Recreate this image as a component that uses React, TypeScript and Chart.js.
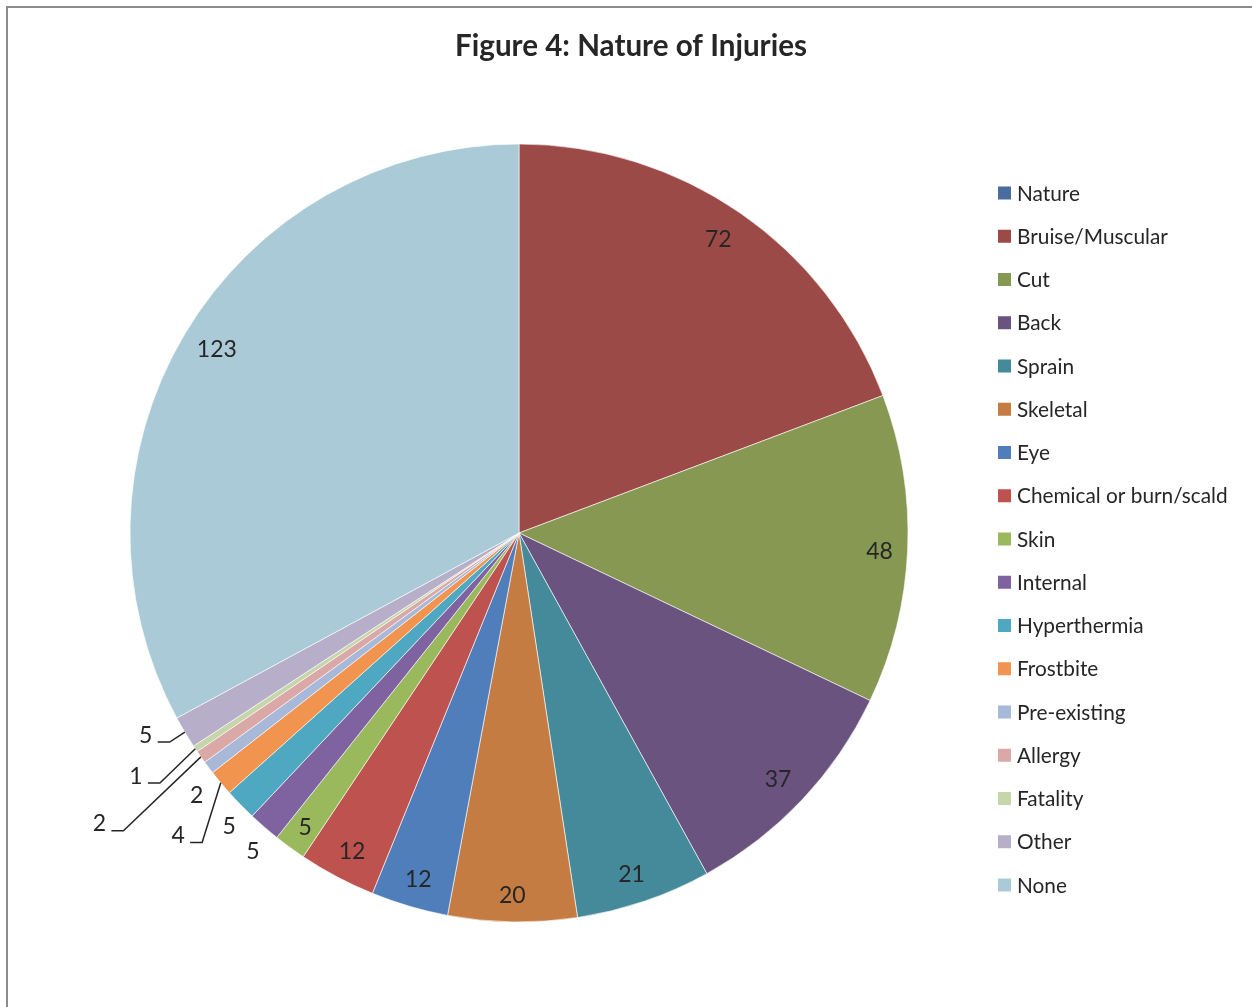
import React, { useEffect, useRef } from 'react';
import { Chart, registerables } from 'chart.js';

Chart.register(...registerables);

const chartTitle = 'Figure 4: Nature of Injuries';

const categories = [
  'Nature', 'Bruise/Muscular', 'Cut', 'Back', 'Sprain', 'Skeletal', 'Eye',
  'Chemical or burn/scald', 'Skin', 'Internal', 'Hyperthermia', 'Frostbite',
  'Pre-existing', 'Allergy', 'Fatality', 'Other', 'None',
];

const values = [0, 72, 48, 37, 21, 20, 12, 12, 5, 5, 5, 4, 2, 2, 1, 5, 123];

const colors = [
  '#4A6C9E', '#9C4A47', '#879853', '#6B537F', '#458A9B', '#C57C43', '#4F7EBB',
  '#BE524F', '#9AB95D', '#7F63A0', '#4FA8C1', '#F0944F', '#A8B8D8', '#D9A8A7',
  '#C6D5AA', '#B7AECA', '#A9CAD6',
];

// data label placement: radius as a share of pie radius, angle shift (deg), leader line
const labelRadius = [0, 0.915, 0.928, 0.918, 0.923, 0.93, 0.925, 0.923, 0.933, 1.064, 1.059, 1.17, 1.067, 1.311, 1.165, 1.09, 0.91];
const labelShift = [0, -0.6, 0.3, 0.2, 0.5, 0.1, -0.1, -0.2, 0, -0.9, -1.0, -1.55, -2.0, 0.5, 1.4, 2.5, 0.6];
const labelLeader = [false, false, false, false, false, false, false, false, false, false, false, true, false, true, true, true, false];

const FONT = 'Lato, "Open Sans", sans-serif';
const TEXT = '#262626';

const decorPlugin = {
  id: 'decor',
  afterDatasetsDraw(chart: any) {
    const ctx = chart.ctx as CanvasRenderingContext2D;
    const meta = chart.getDatasetMeta(0);
    ctx.save();
    // frame
    ctx.strokeStyle = '#8C8C8C';
    ctx.lineWidth = 2;
    ctx.beginPath();
    ctx.moveTo(7, 1010);
    ctx.lineTo(7, 7);
    ctx.lineTo(1260, 7);
    ctx.stroke();

    // title
    ctx.fillStyle = TEXT;
    ctx.font = `bold 29.6px ${FONT}`;
    ctx.textAlign = 'center';
    ctx.textBaseline = 'alphabetic';
    ctx.fillText(chartTitle, 631, 56);

    // data labels
    ctx.font = `23px ${FONT}`;
    meta.data.forEach((arc: any, i: number) => {
      const v = values[i];
      if (!v) return;
      const p = arc.getProps(['x', 'y', 'startAngle', 'endAngle', 'outerRadius'], true);
      const mid = (p.startAngle + p.endAngle) / 2;
      const a = mid + (labelShift[i] * Math.PI) / 180;
      const r = p.outerRadius * labelRadius[i];
      const cx = p.x + Math.cos(a) * r;
      const cy = p.y + Math.sin(a) * r;
      ctx.fillStyle = TEXT;
      ctx.textAlign = 'center';
      ctx.fillText(String(v), cx, cy + 8.5);
      if (labelLeader[i]) {
        const ex = p.x + Math.cos(mid) * p.outerRadius;
        const ey = p.y + Math.sin(mid) * p.outerRadius;
        ctx.strokeStyle = TEXT;
        ctx.lineWidth = 1.5;
        ctx.beginPath();
        ctx.moveTo(cx + 12, cy + 8);
        ctx.lineTo(cx + 24, cy + 8);
        ctx.lineTo(ex, ey);
        ctx.stroke();
      }
    });

    // legend
    ctx.font = `20.8px ${FONT}`;
    ctx.textAlign = 'left';
    categories.forEach((name, i) => {
      const yc = 193 + i * 43.25;
      ctx.fillStyle = colors[i];
      ctx.fillRect(998, yc - 6.5, 13, 13);
      ctx.fillStyle = TEXT;
      ctx.fillText(name, 1017, yc + 7.5);
    });
    ctx.restore();
  },
};

export default function App() {
  const ref = useRef<HTMLCanvasElement>(null);
  useEffect(() => {
    if (!ref.current) return;
    const chart = new Chart(ref.current, {
      type: 'pie',
      data: {
        labels: categories,
        datasets: [
          {
            data: values,
            backgroundColor: colors,
            borderColor: 'rgba(255,255,255,0.6)',
            borderWidth: 1,
          },
        ],
      },
      options: {
        animation: false,
        responsive: false,
        events: [],
        layout: { padding: { left: 129.5, top: 143.5, right: 343.5, bottom: 84.5 } },
        plugins: {
          legend: { display: false },
          title: { display: false },
          tooltip: { enabled: false },
        },
      },
      plugins: [decorPlugin],
    });
    return () => chart.destroy();
  }, []);
  return (
    <div style={{ position: 'fixed', left: 0, top: 0, width: 1252, height: 1007, background: '#fff' }}>
      <canvas ref={ref} width={1252} height={1007} style={{ width: 1252, height: 1007, display: 'block' }} />
    </div>
  );
}
